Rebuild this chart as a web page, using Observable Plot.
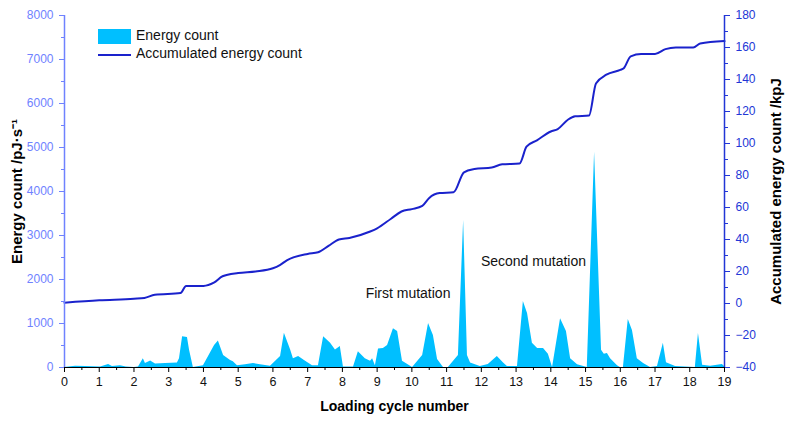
<!DOCTYPE html>
<html>
<head>
<meta charset="utf-8">
<script src="https://cdn.jsdelivr.net/npm/d3@7"></script>
<script src="https://cdn.jsdelivr.net/npm/@observablehq/plot@0.6"></script>
<style>
  html, body { margin: 0; padding: 0; background: #fff; }
  #wrap { position: relative; width: 788px; height: 421px; font-family: "Liberation Sans", Arial, sans-serif; }
  .leg { position: absolute; font-size: 14px; color: #111; white-space: nowrap; }
</style>
</head>
<body>
<div id="wrap"></div>
<script>
// Energy count (left axis, pJ/s) vs loading cycle
const energyX = [0,0.32,0.61,1.04,1.27,1.38,1.61,1.78,2.01,2.13,2.27,2.33,2.48,2.62,2.91,3.25,3.31,3.40,3.54,3.60,3.71,4.00,4.32,4.43,4.58,4.78,4.86,4.98,5.21,5.44,5.64,5.93,6.22,6.33,6.51,6.59,6.74,6.94,7.14,7.31,7.46,7.66,7.80,7.94,8.03,8.32,8.46,8.66,8.81,8.87,8.95,9.04,9.18,9.30,9.47,9.59,9.73,10.02,10.31,10.48,10.62,10.74,10.91,11.05,11.34,11.49,11.60,11.69,11.97,12.20,12.46,12.64,12.75,13.04,13.21,13.33,13.47,13.62,13.79,13.93,14.05,14.28,14.45,14.57,14.77,15.05,15.26,15.46,15.54,15.63,15.72,15.92,16.00,16.09,16.23,16.35,16.49,16.67,16.87,17.07,17.24,17.33,17.59,18.16,18.25,18.37,18.60,18.94,19.0];
const energyY = [0,30,20,10,70,20,40,10,0,10,200,90,150,80,90,100,200,700,680,390,0,40,500,600,270,160,130,40,60,90,60,30,250,780,400,200,250,140,40,40,700,550,400,480,10,10,360,200,140,200,40,420,430,500,880,820,140,0,270,1000,730,180,0,0,270,3340,270,100,20,70,250,100,20,20,1500,1230,550,430,430,300,0,1110,820,200,60,0,4890,390,300,320,200,40,0,0,1090,840,200,90,0,20,550,110,20,0,770,50,30,70,20];

// Accumulated energy count (right axis, kpJ)
const accX = [0,1.0,2.0,2.3,2.6,3.34,3.5,4.0,4.3,4.55,5.0,5.5,6.0,6.2,6.4,7.0,7.3,7.6,7.9,8.2,8.8,9.0,9.4,9.7,10.0,10.3,10.5,10.8,11.2,11.5,11.8,12.3,12.6,13.1,13.3,13.6,14.0,14.2,14.5,14.7,15.1,15.3,15.6,16.0,16.1,16.3,16.6,17.0,17.3,17.6,18.1,18.3,19.0];
const accY = [0.5,2,3,3.5,5.5,6.5,11,11,13,17,19,20,22,24,27,31,32,36,40,41,45,47,53,57.5,59,61,66,69,69.5,82,84,85,87,87.5,98,102,107.5,109,115,117,117.5,137.5,143,146,147,154.5,156,156,159,160,160,162.5,164];

// Tick values
const xTicks = d3.range(0, 20, 1);
const xMinor = d3.range(0.5, 19, 1);
const leftTicks = d3.range(0, 8001, 1000);
const leftMinor = d3.range(500, 8000, 1000);
const rightTicks = d3.range(-40, 181, 20);
const rightMinor = d3.range(-30, 180, 20);

// Annotations
const notes = [
  {text: "First mutation", x: 9.89, y: 1680},
  {text: "Second mutation", x: 13.5, y: 2410}
];

const energy = energyX.map((x, i) => ({x, y: energyY[i]}));
const acc = accX.map((x, i) => ({x, v: accY[i]}));

const rMin = -40, rMax = 180, lMax = 8000;
const toLeft = v => (v - rMin) * lMax / (rMax - rMin);
const fmtR = v => v < 0 ? "\u2212" + Math.abs(v) : String(v);

const leftColor = "#6f82ff";
const rightColor = "#2236d6";
const areaColor = "#00bfff";
const lineColor = "#1a22cc";

const chart = Plot.plot({
  width: 788,
  height: 421,
  marginLeft: 64,
  marginRight: 64,
  marginTop: 15,
  marginBottom: 54,
  style: {fontFamily: "Liberation Sans, Arial, sans-serif", fontSize: "12px", background: "#fff"},
  x: {domain: [0, 19], axis: null},
  y: {domain: [0, 8000], axis: null},
  marks: [
    Plot.areaY(energy, {x: "x", y: "y", fill: areaColor, curve: "linear"}),
    Plot.line(acc, {x: "x", y: d => toLeft(d.v), stroke: lineColor, strokeWidth: 2, curve: "monotone-x"}),
    Plot.ruleX([0], {stroke: leftColor, strokeWidth: 1.5}),
    Plot.ruleX([19], {stroke: rightColor, strokeWidth: 1.5}),
    Plot.ruleY([0], {stroke: "#000", strokeWidth: 1.2}),
    Plot.axisX(xTicks, {tickSize: 5, tickPadding: 5, stroke: "#000", fill: "#111", label: null, fontSize: 12.5}),
    Plot.axisX(xMinor, {tickSize: 3, tickFormat: () => "", stroke: "#000", label: null}),
    Plot.axisY(leftTicks, {anchor: "left", tickSize: 5, tickPadding: 6, stroke: leftColor, fill: leftColor, label: null, tickFormat: d => String(d)}),
    Plot.axisY(leftMinor, {anchor: "left", tickSize: 3, tickFormat: () => "", stroke: leftColor, label: null}),
    Plot.axisY(rightTicks.map(toLeft), {anchor: "right", tickSize: 5, tickPadding: 6, stroke: rightColor, fill: rightColor, label: null, tickFormat: d => fmtR(Math.round(d * (rMax - rMin) / lMax + rMin))}),
    Plot.axisY(rightMinor.map(toLeft), {anchor: "right", tickSize: 3, tickFormat: () => "", stroke: rightColor, label: null}),
    Plot.text(notes, {x: "x", y: "y", text: "text", fontSize: 14, fill: "#111"}),
    Plot.text(["Energy count /pJ\u00b7s\u207b\u00b9"], {frameAnchor: "left", textAnchor: "middle", rotate: -90, dx: -47, fontSize: 15, fontWeight: "bold", fill: "#000"}),
    Plot.text(["Accumulated energy count /kpJ"], {frameAnchor: "right", textAnchor: "middle", rotate: -90, dx: 52, fontSize: 15, fontWeight: "bold", fill: "#000"}),
    Plot.text(["Loading cycle number"], {frameAnchor: "bottom", dy: 43, fontSize: 14, fontWeight: "bold", fill: "#000"})
  ]
});

const wrap = document.getElementById("wrap");
wrap.appendChild(chart);

// Legend overlay
const legend = [
  {label: "Energy count", kind: "area"},
  {label: "Accumulated energy count", kind: "line"}
];
legend.forEach((d, i) => {
  const top = 29 + i * 18;
  const sw = document.createElement("div");
  sw.style.position = "absolute";
  sw.style.left = "98px";
  if (d.kind === "area") {
    sw.style.top = top + "px";
    sw.style.width = "33px";
    sw.style.height = "15px";
    sw.style.background = areaColor;
  } else {
    sw.style.top = (top + 7) + "px";
    sw.style.width = "33px";
    sw.style.height = "2px";
    sw.style.background = lineColor;
  }
  wrap.appendChild(sw);
  const t = document.createElement("div");
  t.className = "leg";
  t.style.left = "136px";
  t.style.top = (top - 2) + "px";
  t.textContent = d.label;
  wrap.appendChild(t);
});
</script>
</body>
</html>
